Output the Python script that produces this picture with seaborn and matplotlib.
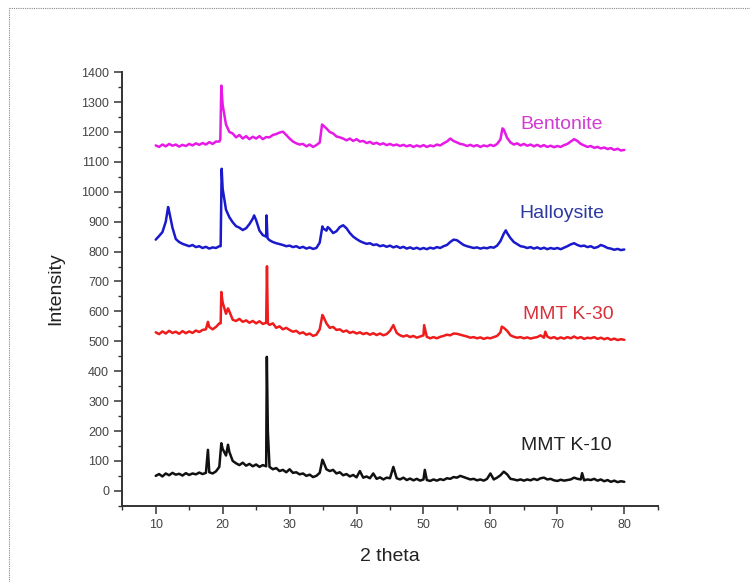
import numpy as np
import pandas as pd
import matplotlib.pyplot as plt
import seaborn as sns
from matplotlib.lines import Line2D
from matplotlib.ticker import MultipleLocator

# scan grid, 10 to 80 degrees in 0.5 steps
two_theta = np.arange(10.0, 80.5, 0.5)

bentonite_y = [
    1155, 1150, 1158, 1152, 1160, 1154, 1158, 1151, 1157, 1153,
    1160, 1155, 1162, 1157, 1163, 1158, 1166, 1160, 1168, 1168,
    1290, 1225, 1200, 1195, 1182, 1190, 1178, 1186, 1176, 1184,
    1178, 1186, 1176, 1183, 1182, 1190, 1193, 1198, 1201, 1190,
    1178, 1168, 1162, 1158, 1160, 1152, 1158, 1150, 1156, 1165,
    1222, 1212, 1200, 1195, 1185, 1182, 1178, 1172, 1178, 1170,
    1176, 1168, 1170, 1163, 1167, 1160, 1164, 1158, 1162, 1156,
    1160, 1155, 1158, 1153, 1157, 1152, 1156, 1150, 1155, 1151,
    1156, 1150, 1155, 1152, 1158, 1155, 1162, 1168, 1178, 1170,
    1165, 1160, 1158, 1153, 1157, 1152, 1156, 1150, 1155, 1152,
    1157, 1153, 1160, 1175, 1208, 1180, 1165, 1158, 1162, 1155,
    1160, 1154, 1158, 1152, 1157, 1151, 1156, 1150, 1154, 1149,
    1153, 1150, 1156, 1160, 1168, 1176, 1170, 1160, 1155, 1150,
    1153, 1147, 1150, 1145, 1148, 1143, 1146, 1140, 1144, 1138,
    1140,
]
bentonite_peak_x = [19.65, 19.8, 34.85, 61.8]
bentonite_peak_y = [1175, 1355, 1225, 1212]

halloysite_y = [
    840, 852, 865, 900, 935, 880, 842, 832, 826, 822,
    818, 822, 815, 818, 812, 816, 810, 814, 812, 818,
    1010, 940, 915, 898, 885, 880, 872, 878, 892, 910,
    905, 870, 855, 850, 838, 832, 828, 825, 822, 818,
    820, 815, 818, 812, 816, 810, 814, 809, 812, 830,
    878, 870, 876, 862, 868, 882, 888, 878, 862, 850,
    842, 835, 830, 826, 828, 822, 824, 818, 821, 816,
    820, 814, 818, 812, 816, 810, 814, 809, 813, 808,
    812, 808, 813, 810, 815, 812, 818, 822, 832, 840,
    838, 830, 822, 818, 815, 812, 814, 810, 813, 811,
    815, 813, 820, 835, 860, 862, 845, 832, 825, 818,
    816, 812, 815, 810, 814, 809, 813, 808, 812, 809,
    812, 808, 813, 818, 824, 828, 822, 818, 820, 815,
    818, 812, 815, 822, 818, 812, 810, 806, 809, 805,
    807,
]
halloysite_peak_x = [11.85, 19.7, 19.85, 24.7, 26.55, 26.7, 34.9, 35.7, 62.3]
halloysite_peak_y = [949, 818, 1077, 921, 921, 845, 884, 882, 871]

mmt_k30_y = [
    530, 524, 533, 526, 535, 528, 532, 525, 534, 527,
    533, 528, 536, 531, 538, 540, 548, 540, 548, 560,
    630, 592, 600, 572, 568, 575, 565, 570, 562, 568,
    560, 567, 558, 562, 555, 560, 545, 550, 540, 545,
    538, 532, 535, 526, 530, 522, 526, 518, 522, 540,
    585, 560, 545, 548, 538, 540, 532, 536, 528, 532,
    526, 530, 524, 528, 522, 527, 521, 526, 520, 524,
    535, 554, 528, 520, 516, 520, 514, 518, 512, 516,
    520, 515, 510, 514, 510, 515, 518, 522, 520, 526,
    525, 522, 519, 516, 512, 514, 510, 513, 508, 512,
    510, 514, 518, 530, 545, 535, 520, 515, 512, 514,
    510, 513, 509, 512, 514, 520, 512, 516, 510, 514,
    508, 513, 509, 514, 510, 516, 510, 514, 508, 512,
    510, 514, 508, 512, 507, 511, 505, 509, 504, 507,
    505,
]
mmt_k30_peak_x = [17.8, 19.7, 19.8, 20.8, 26.62, 26.75, 34.9, 50.1, 61.7, 68.2]
mmt_k30_peak_y = [565, 560, 665, 610, 751, 560, 588, 554, 549, 532]

mmt_k10_y = [
    50, 56, 48, 58, 52, 60, 54, 57, 51, 59,
    53, 58, 55, 61, 56, 60, 62, 58, 65, 80,
    140, 118, 130, 100, 92, 86, 94, 84, 90, 82,
    88, 80, 86, 82, 80, 72, 76, 66, 70, 62,
    72, 60, 62, 55, 58, 50, 54, 46, 50, 60,
    100, 72, 66, 70, 58, 62, 52, 56, 48, 53,
    45, 66, 44, 48, 42, 58, 40, 45, 38, 44,
    42, 80, 42, 38, 44, 36, 41, 35, 40, 34,
    38, 36, 33, 38, 34, 39, 36, 42, 40, 46,
    44, 50, 46, 42, 38, 40, 35, 38, 34, 40,
    58, 38, 44, 52, 64, 55, 40, 38, 35, 38,
    34, 38, 35, 40, 36, 42, 44, 38, 40, 35,
    33, 37, 34, 36, 38, 44, 40, 38, 35, 38,
    36, 40, 34, 38, 32, 36, 30, 34, 29, 32,
    30,
]
mmt_k10_peak_x = [17.8, 19.8, 20.8, 26.6, 26.75, 34.9, 50.2, 73.7]
mmt_k10_peak_y = [137, 159, 154, 448, 200, 104, 70, 59]

series_names = ["Bentonite", "Halloysite", "MMT K-30", "MMT K-10"]
line_colors = ["#e619e6", "#1a1acc", "#ee1c1c", "#111111"]
text_colors = ["#d23cd2", "#2c3aa0", "#d9303a", "#222222"]
label_x = [70.7, 70.7, 71.6, 71.4]
label_y = [1225, 927, 590, 151]


def build_pattern(grid_y, peak_x, peak_y):
    df = pd.concat([
        pd.DataFrame({"two_theta": two_theta, "intensity": grid_y}),
        pd.DataFrame({"two_theta": peak_x, "intensity": peak_y}),
    ])
    return df.sort_values("two_theta").reset_index(drop=True)


patterns = [
    build_pattern(bentonite_y, bentonite_peak_x, bentonite_peak_y),
    build_pattern(halloysite_y, halloysite_peak_x, halloysite_peak_y),
    build_pattern(mmt_k30_y, mmt_k30_peak_x, mmt_k30_peak_y),
    build_pattern(mmt_k10_y, mmt_k10_peak_x, mmt_k10_peak_y),
]

sns.set_theme(style="ticks")
plt.rcParams["font.family"] = ["Liberation Sans", "DejaVu Sans"]

fig = plt.figure(figsize=(7.5, 5.82), dpi=100)
ax = fig.add_axes([0.163, 0.131, 0.714, 0.745])

for df, color in zip(patterns, line_colors):
    sns.lineplot(data=df, x="two_theta", y="intensity", color=color,
                 linewidth=1.8, estimator=None, sort=False, ax=ax)

for name, color, lx, ly in zip(series_names, text_colors, label_x, label_y):
    ax.text(lx, ly, name, color=color, fontsize=14, ha="center", va="center")

ax.set_xlim(5, 85)
ax.set_ylim(-50, 1400)
ax.xaxis.set_major_locator(MultipleLocator(10))
ax.xaxis.set_minor_locator(MultipleLocator(5))
ax.yaxis.set_major_locator(MultipleLocator(100))
ax.yaxis.set_minor_locator(MultipleLocator(50))
ax.set_xticks([10, 20, 30, 40, 50, 60, 70, 80])

ax.tick_params(which="major", direction="out", length=6, width=1.1,
               color="#333333", labelsize=9, labelcolor="#444444")
ax.tick_params(which="minor", direction="out", length=3, width=1.0,
               color="#333333")

ax.set_xlabel("2 theta", fontsize=14, color="#222222", labelpad=12)
ax.set_ylabel("Intensity", fontsize=14, color="#222222", labelpad=12)

sns.despine(ax=ax)
for side in ["left", "bottom"]:
    ax.spines[side].set_linewidth(1.4)
    ax.spines[side].set_color("#333333")

# dotted frame of the original figure panel
fig.add_artist(Line2D([0.012, 0.012], [0.0, 0.986], transform=fig.transFigure,
                      color="#888888", linewidth=0.8, linestyle=(0, (1, 1))))
fig.add_artist(Line2D([0.012, 1.0], [0.986, 0.986], transform=fig.transFigure,
                      color="#888888", linewidth=0.8, linestyle=(0, (1, 1))))

fig.savefig("out.png", dpi=100)
